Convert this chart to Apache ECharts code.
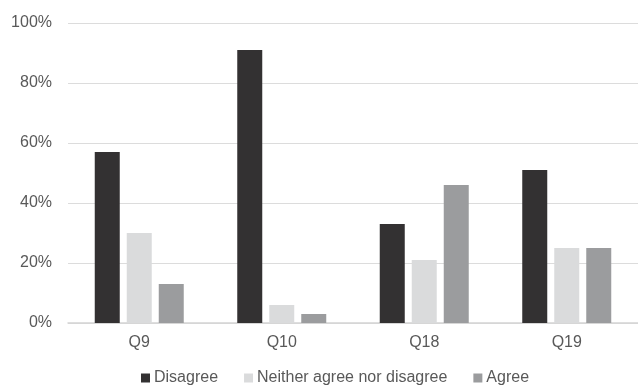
<!DOCTYPE html>
<html>
<head>
<meta charset="utf-8">
<style>
  html, body { margin: 0; padding: 0; background: #ffffff; }
  #chart { width: 638px; height: 386px; }
</style>
<script src="https://cdn.jsdelivr.net/npm/echarts@6/dist/echarts.min.js"></script>
</head>
<body>
<div id="chart"></div>
<script>
// Survey responses per question, in percent
const questions = ['Q9', 'Q10', 'Q18', 'Q19'];
const disagree = [57, 91, 33, 51];
const neither = [30, 6, 21, 25];
const agree = [13, 3, 46, 25];
const yTicks = [0, 20, 40, 60, 80, 100];

const labelFont = 'Liberation Sans, Arial, sans-serif';
const textColor = '#595959';

const chart = echarts.init(document.getElementById('chart'), null, { renderer: 'canvas' });

function barSeries(name, data, color) {
  return {
    name: name,
    type: 'bar',
    data: data,
    barWidth: 25,
    barGap: '28%',
    itemStyle: { color: color },
    emphasis: { disabled: true }
  };
}

chart.setOption({
  animation: false,
  textStyle: { fontFamily: labelFont },
  grid: { left: 68, top: 23, width: 579, height: 300, containLabel: false },
  legend: {
    left: 136,
    top: 365,
    itemWidth: 9,
    itemHeight: 9,
    itemGap: 26,
    icon: 'rect',
    textStyle: { fontSize: 16, color: textColor, fontFamily: labelFont, padding: [0, 0, 0, -1] },
    data: ['Disagree', 'Neither agree nor disagree', 'Agree']
  },
  xAxis: {
    type: 'category',
    data: questions,
    axisLine: { show: true, lineStyle: { color: '#d4d4d4', width: 1.5 } },
    axisTick: { show: false },
    axisLabel: { fontSize: 16, color: textColor, margin: 12 }
  },
  yAxis: {
    type: 'value',
    min: yTicks[0],
    max: yTicks[yTicks.length - 1],
    interval: yTicks[1] - yTicks[0],
    axisLine: { show: false },
    axisTick: { show: false },
    splitLine: { lineStyle: { color: '#dcdcdc', width: 1 } },
    axisLabel: { fontSize: 16, color: textColor, margin: 16, formatter: '{value}%' }
  },
  series: [
    barSeries('Disagree', disagree, '#333132'),
    barSeries('Neither agree nor disagree', neither, '#dadbdc'),
    barSeries('Agree', agree, '#9b9c9e')
  ]
});
</script>
</body>
</html>
